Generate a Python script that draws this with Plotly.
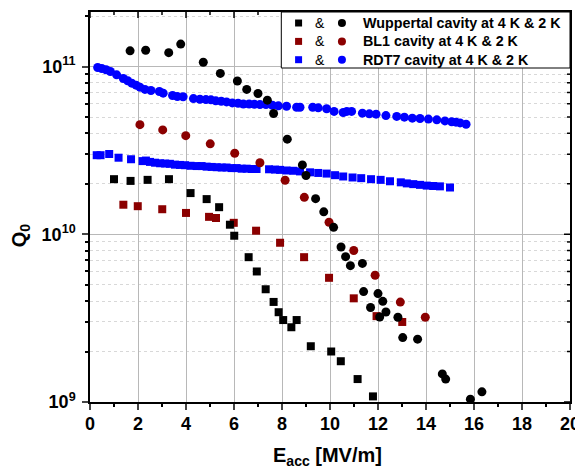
import math
import plotly.graph_objects as go

# ---------------- data ----------------
wup_2k_x = [1.67, 2.32, 3.28, 3.78, 4.72, 5.43, 6.14, 6.53, 7.0, 7.39, 7.65, 8.22, 8.85, 9.0, 9.4, 9.74,
            10.15, 10.46, 10.65, 10.85, 11.35, 11.4, 11.69, 12.0, 12.07, 12.2, 12.33, 12.83, 13.03, 13.65,
            14.68, 14.82, 15.85, 16.33]
wup_2k_q = [1.24e11, 1.25e11, 1.21e11, 1.36e11, 1.06e11, 9.1e10, 8.2e10, 7.3e10, 6.9e10, 6.3e10, 5.25e10,
            3.69e10, 2.59e10, 2.24e10, 1.63e10, 1.36e10, 1.10e10, 8.4e9, 7.35e9, 6.5e9, 6.7e9, 4.55e9,
            3.66e9, 4.43e9, 3.21e9, 3.98e9, 3.44e9, 3.2e9, 2.42e9, 2.37e9, 1.47e9, 1.37e9, 1.04e9, 1.15e9]

wup_4k_x = [1.0, 1.69, 2.4, 3.29, 4.19, 4.86, 5.38, 5.83, 6.01, 6.61, 6.95, 7.32, 7.65, 7.86, 8.05, 8.39,
            8.61, 9.2, 10.05, 10.45, 11.15, 11.79]
wup_4k_q = [2.13e10, 2.08e10, 2.11e10, 2.13e10, 1.76e10, 1.62e10, 1.45e10, 1.14e10, 9.8e9, 7.3e9, 6.0e9,
            4.7e9, 3.95e9, 3.43e9, 3.08e9, 2.79e9, 3.08e9, 2.15e9, 2.0e9, 1.75e9, 1.37e9, 1.08e9]

bl1_2k_x = [2.08, 3.03, 3.99, 5.01, 6.03, 7.08, 8.13, 8.93, 9.96, 10.99, 11.88, 12.93, 13.97]
bl1_2k_q = [4.5e10, 4.19e10, 3.87e10, 3.46e10, 3.04e10, 2.67e10, 2.1e10, 1.66e10, 1.18e10, 8.0e9, 5.7e9,
            3.94e9, 3.2e9]

bl1_4k_x = [1.39, 1.99, 3.01, 4.0, 4.96, 5.25, 5.99, 6.92, 7.92, 8.92, 9.96, 10.99, 11.94, 13.01]
bl1_4k_q = [1.5e10, 1.47e10, 1.41e10, 1.34e10, 1.27e10, 1.25e10, 1.17e10, 1.05e10, 8.9e9, 7.3e9, 5.5e9,
            4.15e9, 3.25e9, 3.0e9]

rdt_2k_x = [0.32, 0.49, 0.67, 0.85, 1.11, 1.39, 1.57, 1.74, 1.92, 2.08, 2.29, 2.54, 2.89, 3.05, 3.44, 3.64,
            3.88, 4.31, 4.58, 4.83, 5.04, 5.24, 5.47, 5.69, 5.93, 6.17, 6.39, 6.63, 6.85, 7.08, 7.33, 7.6,
            7.85, 8.19, 8.61, 8.75, 9.28, 9.51, 9.86, 10.17, 10.55, 10.7, 10.9, 11.35, 11.64, 11.92, 12.33,
            12.78, 13.1, 13.43, 13.75, 14.1, 14.45, 14.79, 15.07, 15.25, 15.42, 15.67]
rdt_2k_q = [9.86e10, 9.73e10, 9.56e10, 9.34e10, 8.92e10, 8.48e10, 8.22e10, 7.96e10, 7.74e10, 7.53e10,
            7.30e10, 7.2e10, 7.1e10, 6.94e10, 6.72e10, 6.62e10, 6.6e10, 6.44e10, 6.38e10, 6.35e10, 6.33e10,
            6.24e10, 6.21e10, 6.15e10, 6.07e10, 6.04e10, 5.98e10, 5.98e10, 5.96e10, 5.93e10, 5.93e10,
            5.88e10, 5.83e10, 5.8e10, 5.72e10, 5.72e10, 5.72e10, 5.67e10, 5.6e10, 5.4e10, 5.32e10, 5.4e10,
            5.4e10, 5.27e10, 5.22e10, 5.2e10, 5.1e10, 5.04e10, 4.99e10, 4.92e10, 4.9e10, 4.86e10, 4.81e10,
            4.74e10, 4.68e10, 4.66e10, 4.61e10, 4.53e10]

rdt_4k_x = [0.28, 0.44, 0.8, 1.19, 1.71, 2.19, 2.33, 2.5, 2.71, 2.92, 3.13, 3.33, 3.54, 3.75, 3.96, 4.19,
            4.44, 4.65, 4.86, 5.07, 5.28, 5.49, 5.69, 5.9, 6.11, 6.32, 6.53, 6.74, 6.94, 7.46, 7.71, 7.92,
            8.19, 8.47, 8.75, 9.17, 9.51, 9.86, 10.21, 10.55, 10.94, 11.3, 11.71, 12.11, 12.5, 12.95, 13.2,
            13.47, 13.75, 14.03, 14.3, 14.58, 15.0]
rdt_4k_q = [2.96e10, 2.96e10, 3.01e10, 2.86e10, 2.8e10, 2.73e10, 2.75e10, 2.7e10, 2.67e10, 2.65e10,
            2.64e10, 2.63e10, 2.6e10, 2.59e10, 2.58e10, 2.56e10, 2.55e10, 2.55e10, 2.53e10, 2.52e10,
            2.51e10, 2.5e10, 2.5e10, 2.48e10, 2.48e10, 2.46e10, 2.46e10, 2.45e10, 2.45e10, 2.44e10,
            2.43e10, 2.42e10, 2.4e10, 2.39e10, 2.37e10, 2.34e10, 2.32e10, 2.3e10, 2.25e10, 2.21e10,
            2.18e10, 2.16e10, 2.13e10, 2.11e10, 2.07e10, 2.04e10, 2.01e10, 1.99e10, 1.97e10, 1.95e10,
            1.94e10, 1.93e10, 1.9e10]

legend_labels = ["Wuppertal cavity at 4 K & 2 K", "BL1 cavity at 4 K & 2 K", "RDT7 cavity at 4 K & 2 K"]
legend_colors = ["#000000", "#8B0000", "#0000FF"]

x_ticks = list(range(0, 21, 2))
x_minor = list(range(1, 20, 2))
y_ticks = [1e9, 1e10, 1e11]
y_ticktext = ["10<sup>9</sup>", "10<sup>10</sup>", "10<sup>11</sup>"]
y_minor = [m * 10 ** e for e in (9, 10) for m in range(2, 10)] + [2e11]

# ---------------- figure ----------------
FONT = "Liberation Sans, Arial, sans-serif"
BLACK, RED, BLUE = legend_colors
Y_LOG_RANGE = [9, 11.325]
X_RANGE = [0, 20]

fig = go.Figure()

def add(x, y, color, symbol, size):
    fig.add_trace(go.Scatter(x=x, y=y, mode="markers", showlegend=False,
                             marker=dict(color=color, symbol=symbol, size=size, line=dict(width=0))))

add(rdt_4k_x, rdt_4k_q, BLUE, "square", 8)
add(rdt_2k_x, rdt_2k_q, BLUE, "circle", 9)
add(bl1_4k_x, bl1_4k_q, RED, "square", 8)
add(bl1_2k_x, bl1_2k_q, RED, "circle", 9)
add(wup_4k_x, wup_4k_q, BLACK, "square", 8)
add(wup_2k_x, wup_2k_q, BLACK, "circle", 9)

# page has an 8px body margin; figure is drawn inside it
OFF = 8
W, H = 583 - OFF, 471 - OFF
P_LEFT, P_RIGHT, P_TOP, P_BOTTOM = 89.5, 570, 12.3, 402.3   # plot area in page pixels
L = P_LEFT - OFF
R = W - (P_RIGHT - OFF)
T = P_TOP - OFF
B = H - (P_BOTTOM - OFF)

def px(xp):   # page x -> paper
    return (xp - P_LEFT) / (P_RIGHT - P_LEFT)

def py(yp):   # page y -> paper
    return (P_BOTTOM - yp) / (P_BOTTOM - P_TOP)

fig.update_layout(
    width=W, height=H,
    margin=dict(l=L, r=R, t=T, b=B, autoexpand=False),
    plot_bgcolor="white", paper_bgcolor="white",
    font=dict(family=FONT, color="black"),
    xaxis=dict(range=X_RANGE, tickvals=x_ticks, ticks="outside", ticklen=6, tickwidth=1.5,
               showline=True, linecolor="black", linewidth=1.5, mirror=True,
               showgrid=True, gridcolor="#b8b8b8", gridwidth=1, zeroline=False,
               tickfont=dict(size=18, weight="bold", family=FONT), ticklabelstandoff=-1,
               minor=dict(tickvals=x_minor, ticks="outside", ticklen=3, tickwidth=1.5,
                          tickcolor="black", showgrid=False)),
    yaxis=dict(type="log", range=Y_LOG_RANGE, tickvals=y_ticks, ticktext=y_ticktext,
               ticks="outside", ticklen=6, tickwidth=1.5,
               showline=True, linecolor="black", linewidth=1.5, mirror=True,
               showgrid=True, gridcolor="#b8b8b8", gridwidth=1, zeroline=False,
               tickfont=dict(size=18, weight="bold", family=FONT), ticklabelstandoff=3,
               minor=dict(tickmode="array", tickvals=y_minor, ticks="outside", ticklen=3, tickwidth=1.5,
                          tickcolor="black", showgrid=True, gridcolor="#d8d8d8", griddash="dot",
                          gridwidth=1)),
)

annotations = [
    dict(text="<b>Q<sub>0</sub></b>", xref="paper", yref="paper", x=px(20), y=py(236),
         xanchor="center", yanchor="middle",
         textangle=-90, showarrow=False, font=dict(size=20, family=FONT)),
    dict(text="<b>E<sub>acc</sub> [MV/m]</b>", xref="paper", yref="paper", x=px(327), y=py(457),
         xanchor="center", yanchor="middle",
         showarrow=False, font=dict(size=20, family=FONT)),
]

shapes = []

# inward mirror ticks on top and right edges
for v in x_ticks + x_minor:
    ln = 6 if v in x_ticks else 3
    shapes.append(dict(type="line", xref="x", yref="paper", ysizemode="pixel", yanchor=1,
                       x0=v, x1=v, y0=0, y1=-ln, line=dict(color="black", width=1.5)))
for v in y_ticks + y_minor:
    f = (math.log10(v) - Y_LOG_RANGE[0]) / (Y_LOG_RANGE[1] - Y_LOG_RANGE[0])
    if 0 <= f <= 1:
        ln = 6 if v in y_ticks else 3
        shapes.append(dict(type="line", xref="paper", yref="paper", xsizemode="pixel", xanchor=1,
                           x0=0, x1=-ln, y0=f, y1=f, line=dict(color="black", width=1.5)))

# legend box
shapes.append(dict(type="rect", xref="paper", yref="paper", x0=px(281), x1=1, y0=py(68.3), y1=1,
                   line=dict(color="black", width=1), fillcolor="white", layer="above"))

row_y = [23.3, 41.7, 60.0]
for lab, col, ry in zip(legend_labels, legend_colors, row_y):
    shapes.append(dict(type="rect", xref="paper", yref="paper", xsizemode="pixel", ysizemode="pixel",
                       xanchor=px(298.3), yanchor=py(ry), x0=-3.5, x1=3.5, y0=-3.5, y1=3.5,
                       fillcolor=col, line=dict(width=0), layer="above"))
    shapes.append(dict(type="circle", xref="paper", yref="paper", xsizemode="pixel", ysizemode="pixel",
                       xanchor=px(341.7), yanchor=py(ry), x0=-4, x1=4, y0=-4, y1=4,
                       fillcolor=col, line=dict(width=0), layer="above"))
    annotations.append(dict(text="&", xref="paper", yref="paper", x=px(319.3), y=py(ry),
                            xanchor="center", yanchor="middle", showarrow=False,
                            font=dict(size=14, family=FONT)))
    annotations.append(dict(text="<b>" + lab + "</b>", xref="paper", yref="paper", x=px(361), y=py(ry),
                            xanchor="left", yanchor="middle", showarrow=False,
                            font=dict(size=14.3, family=FONT)))

fig.update_layout(annotations=annotations, shapes=shapes)

fig.write_html("out.html")
